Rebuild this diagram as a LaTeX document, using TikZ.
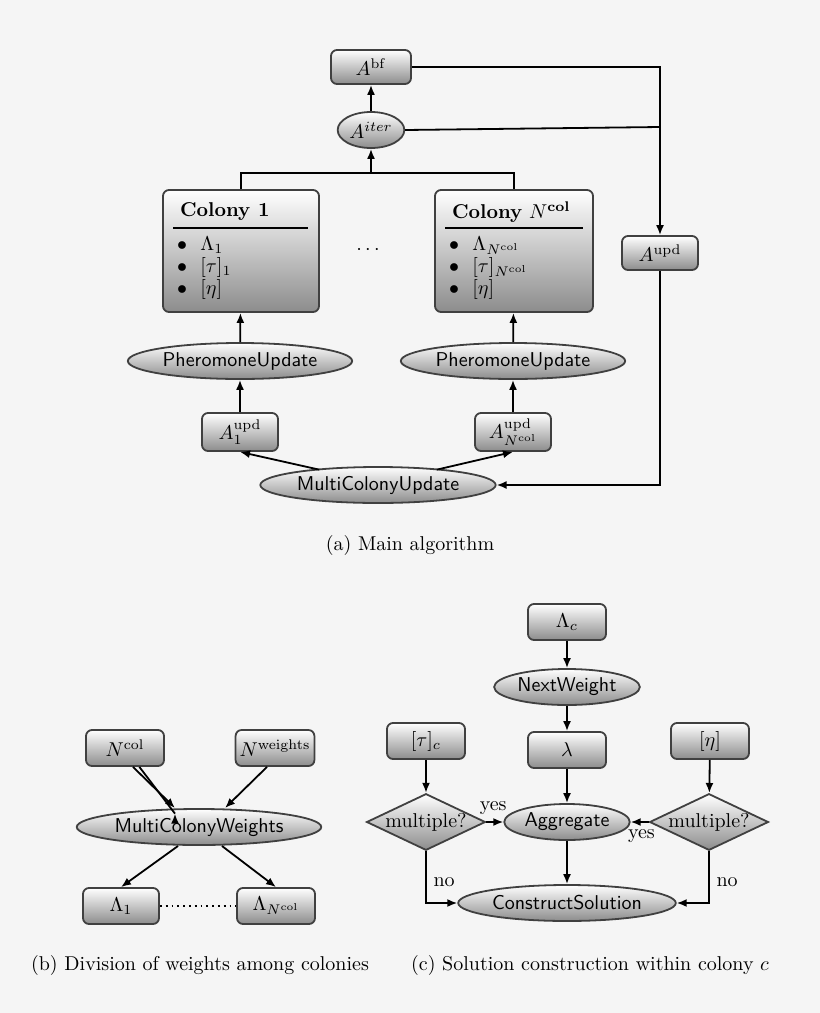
\documentclass[tikz,border=0pt]{standalone}
\usetikzlibrary{shapes.geometric,arrows.meta}
\begin{document}
\begin{tikzpicture}[x=0.5pt,y=-0.5pt,
  gr/.style={top color=white,bottom color=black!45,draw=black!75,line width=0.9pt},
  box/.style={gr,rounded corners=3pt,minimum height=17pt,inner sep=2pt},
  ell/.style={gr,ellipse,minimum height=18pt,inner sep=1pt,font=\sffamily},
  dia/.style={gr,diamond,aspect=2.1,inner sep=0pt,minimum width=58pt,minimum height=28pt},
  ar/.style={-{Latex[length=5pt,width=4pt]},line width=0.9pt},
  ln/.style={line width=0.9pt}]
\fill[black!4] (0,0) rectangle (820,1013);
\useasboundingbox (0,0) rectangle (820,1013);
% (a)
\node[box,minimum width=40pt] (abf) at (371,67) {$A^{\mathrm{bf}}$};
\node[ell,minimum width=31pt] (ait) at (371,130) {$A^{iter}$};
\node[box,minimum width=78pt,minimum height=61pt] (c1) at (241,251) {};
\node[box,minimum width=79pt,minimum height=61pt] (cN) at (514,251) {};
\node[anchor=west] (t1) at (173,212) {\textbf{Colony 1}};
\draw[ln] (173,228) -- (308,228);
\node[anchor=west,align=left] (l1) at (170,268) {$\bullet$\ \ $\Lambda_1$\\[-1pt]$\bullet$\ \ $[\tau]_1$\\[-1pt]$\bullet$\ \ $[\eta]$};
\node[anchor=west] (tN) at (445,212) {\textbf{Colony} $N^{\mathbf{col}}$};
\draw[ln] (445,228) -- (583,228);
\node[anchor=west,align=left] (lN) at (442,268) {$\bullet$\ \ $\Lambda_{N^{\mathrm{col}}}$\\[-1pt]$\bullet$\ \ $[\tau]_{N^{\mathrm{col}}}$\\[-1pt]$\bullet$\ \ $[\eta]$};
\node (dots) at (368,250) {$\cdots$};
\node[box,minimum width=38pt] (aupd) at (660,253) {$A^{\mathrm{upd}}$};
\node[ell,minimum width=103pt] (p1) at (240,361) {PheromoneUpdate};
\node[ell,minimum width=103pt] (pN) at (513,361) {PheromoneUpdate};
\node[box,minimum width=38pt,minimum height=19pt] (u1) at (240,432) {$A_1^{\mathrm{upd}}$};
\node[box,minimum width=38pt,minimum height=19pt] (uN) at (513,432) {$A_{N^{\mathrm{col}}}^{\mathrm{upd}}$};
\node[ell,minimum width=111pt] (mcu) at (378,485) {MultiColonyUpdate};
\node (capa) at (410,545) {(a) Main algorithm};
\coordinate (j) at (371,173);
\draw[ln] (c1.north) |- (j) -| (cN.north);
\draw[ar] (j) -- (ait);
\draw[ar] (ait) -- (abf);
\draw[ar] (abf.east) -| (aupd.north);
\draw[ln] (ait.east) -- (660,127);
\draw[ar] (aupd.south) |- (mcu.east);
\draw[ar] (p1) -- (c1);
\draw[ar] (pN) -- (cN);
\draw[ar] (u1) -- (p1);
\draw[ar] (uN) -- (pN);
\draw[ar] (mcu.north west) ++(25,-2) -- (u1.south);
\draw[ar] (mcu.north east) ++(-25,-2) -- (uN.south);
% (b)
\node[box,minimum width=39pt,minimum height=18pt] (nc) at (125,748) {$N^{\mathrm{col}}$};
\node[box,minimum width=39pt,minimum height=18pt] (nw) at (275,748) {$N^{\mathrm{weights}}$};
\node[ell,minimum width=115pt] (mcw) at (199,827) {MultiColonyWeights};
\node[box,minimum width=38pt,minimum height=18pt] (l1b) at (121,906) {$\Lambda_1$};
\node[box,minimum width=39pt,minimum height=18pt] (lNb) at (276,906) {$\Lambda_{N^{\mathrm{col}}}$};
\draw[ln,dotted,line width=1.2pt] (l1b) -- (lNb);
\draw[ar] (nc) -- (mcw.north west -| 175,0) ++(0,0);
\draw[ar] (nc.south) ++(8,0) -- (175,808);
\draw[ar] (nw.south) ++(-8,0) -- (225,808);
\draw[ar] (178,846) -- (l1b.north);
\draw[ar] (222,846) -- (lNb.north);
\node (capb) at (200,965) {(b) Division of weights among colonies};
% (c)
\node[box,minimum width=39pt,minimum height=18pt] (lc) at (567,622) {$\Lambda_c$};
\node[ell,minimum width=64pt] (nxt) at (567,687) {NextWeight};
\node[box,minimum width=39pt,minimum height=18pt] (lam) at (567,750) {$\lambda$};
\node[box,minimum width=39pt,minimum height=18pt] (tc) at (426,741) {$[\tau]_c$};
\node[box,minimum width=39pt,minimum height=18pt] (eta) at (710,741) {$[\eta]$};
\node[dia] (d1) at (426,822) {multiple?};
\node[dia] (d2) at (709,822) {multiple?};
\node[ell,minimum width=58pt] (agg) at (567,822) {Aggregate};
\node[ell,minimum width=101pt] (cs) at (567,903) {ConstructSolution};
\draw[ar] (lc) -- (nxt);
\draw[ar] (nxt) -- (lam);
\draw[ar] (lam) -- (agg);
\draw[ar] (agg) -- (cs);
\draw[ar] (tc) -- (d1);
\draw[ar] (eta) -- (d2);
\draw[ar] (d1) -- node[above,pos=0.4] (y1) {yes} (agg);
\draw[ar] (d2) -- node[below,pos=0.4] (y2) {yes} (agg);
\draw[ar] (d1.south) |- node[pos=0.3,right] (n1) {no} (cs.west);
\draw[ar] (d2.south) |- node[pos=0.3,right] (n2) {no} (cs.east);
\node (capc) at (590,965) {(c) Solution construction within colony $c$};
\end{tikzpicture}
\end{document}
